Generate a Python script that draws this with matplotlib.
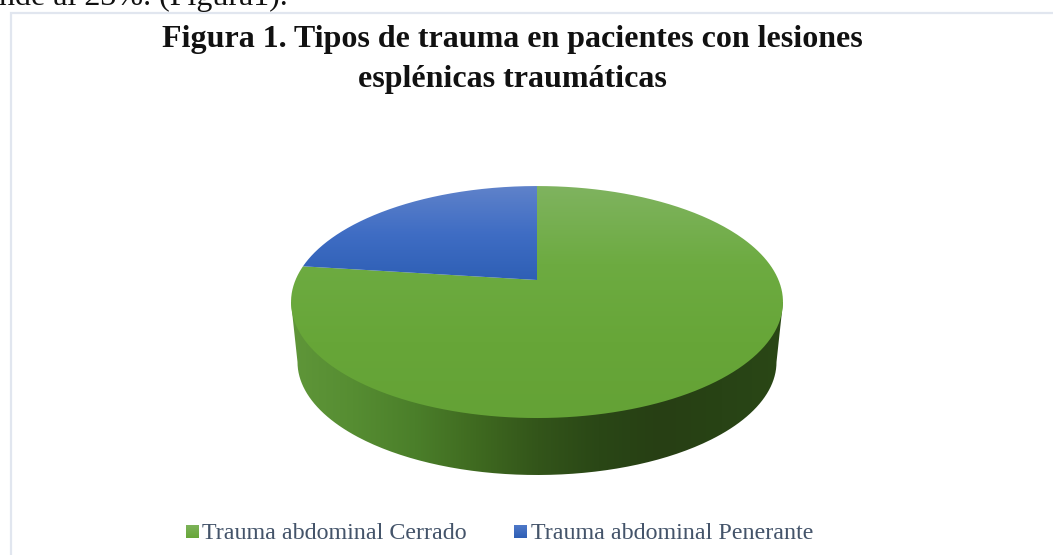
"""Figura 1: tipos de trauma, 3D pie drawn by hand."""
import numpy as np
import matplotlib
matplotlib.use("Agg")
import matplotlib.pyplot as plt
from matplotlib.colors import LinearSegmentedColormap
from matplotlib.path import Path
from matplotlib.patches import PathPatch, Rectangle

categories = ["Trauma abdominal Cerrado", "Trauma abdominal Penerante"]
shares = [77, 23]
title_lines = ["Figura 1. Tipos de trauma en pacientes con lesiones",
               "esplénicas traumáticas"]
cut_off_text = "nde al 23%. (Figura1)."

W, H = 1053, 555
CX, CY = 537, 280
SX, SY, P = 241.5, 111.8, 0.19


def project(theta):
    # theta clockwise from 12 o'clock, flat disc seen in perspective
    u, v = np.sin(theta), np.cos(theta)
    return CX + SX * u / (1 + P * v), CY - SY * v / (1 + P * v)


def wedge_path(a0, a1):
    t = np.linspace(a0, a1, 300)
    x, y = project(t)
    return Path(np.column_stack([np.r_[CX, x, CX], np.r_[CY, y, CY]]))


def gradient(ax, colors, extent, clip, horizontal=False):
    cmap = LinearSegmentedColormap.from_list("g", colors)
    g = np.linspace(0, 1, 256)
    g = g[None, :] if horizontal else g[:, None]
    im = ax.imshow(g, cmap=cmap, extent=extent, aspect="auto", origin="upper",
                   interpolation="bilinear", zorder=2)
    im.set_clip_path(PathPatch(clip, transform=ax.transData))


fig = plt.figure(figsize=(W / 100, H / 100), dpi=100)
ax = fig.add_axes([0, 0, 1, 1])
ax.set_xlim(0, W)
ax.set_ylim(H, 0)
ax.axis("off")
plt.rcParams["font.family"] = "Liberation Serif"

# frame of the embedded chart, runs off the page at right and bottom
ax.add_patch(Rectangle((10.5, 13), W + 20, H + 20, fc="white", ec="#e1e6ef", lw=1.6, zorder=1))
ax.text(-1, 4.5, cut_off_text, fontsize=23, color="#111111", ha="left", va="baseline", zorder=3)

# side wall: bottom rim is a slightly smaller ellipse, lower down
t = np.linspace(np.pi / 2, 3 * np.pi / 2, 200)
wall_x = 537 + 239.5 * np.sin(t)
wall_y = 362 - 113 * np.cos(t)
wall = Path(np.column_stack([np.r_[537, 783, wall_x, 291, 537],
                             np.r_[302, 302, wall_y, 302, 302]]))
gradient(ax, ["#5f9639", "#568d32", "#4b7f2a", "#3f6a20", "#33551a", "#2a4716", "#273f14", "#284315", "#2a4716"],
         (291, 784, 480, 290), wall, horizontal=True)

# top face, slices from the shares
a = 2 * np.pi * shares[0] / sum(shares)
gradient(ax, ["#7fb35f", "#6dab41", "#67a638", "#64a236"], (285, 790, 420, 186), wedge_path(0, a))
gradient(ax, ["#5f82ca", "#3f6dc4", "#2e5fb5"], (285, 790, 281, 186), wedge_path(a, 2 * np.pi))

# title
ax.text(512, 47, title_lines[0], fontsize=23, fontweight="bold", color="#111111",
        ha="center", va="baseline", zorder=3)
ax.text(512, 87, title_lines[1], fontsize=23, fontweight="bold", color="#111111",
        ha="center", va="baseline", zorder=3)

# legend
key_x = [186, 514]
text_x = [202, 531]
key_cols = [["#7db35a", "#67a638"], ["#4f78c8", "#2e5fb5"]]
for name, kx, tx, col in zip(categories, key_x, text_x, key_cols):
    key = Path([(kx, 525), (kx + 13, 525), (kx + 13, 538), (kx, 538), (kx, 525)])
    gradient(ax, col, (kx, kx + 13, 538, 525), key)
    ax.text(tx, 539, name, fontsize=17.3, color="#44546a", ha="left", va="baseline", zorder=3)

ax.set_xlim(0, W)
ax.set_ylim(H, 0)
fig.savefig("out.png", dpi=100)
